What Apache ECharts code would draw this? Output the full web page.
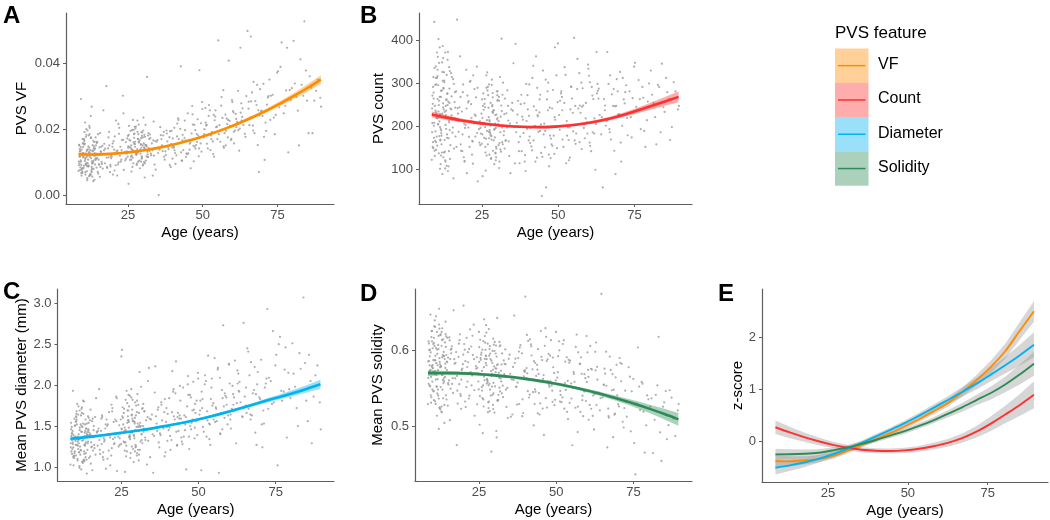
<!DOCTYPE html>
<html><head><meta charset="utf-8">
<script src="https://cdn.jsdelivr.net/npm/echarts@6/dist/echarts.min.js"></script>
<style>html,body{margin:0;padding:0;background:#fff}#c{width:1050px;height:520px}</style>
</head><body><div id="c"></div>
<script>
// ---- participant ages (shared by panels A-D) ----
const ages = [
8.6,9.1,9.4,10.2,10.8,11.3,11.9,12.4,13.0,13.6,
8.8,9.5,10.0,10.6,11.1,11.7,12.2,12.9,13.4,14.1,
9.0,9.7,10.4,11.0,11.5,12.0,12.6,13.2,13.9,14.5,
8.9,9.3,9.9,10.5,11.2,11.8,12.5,13.1,14.0,14.8,
9.2,9.8,10.3,10.9,11.4,12.1,12.7,13.5,14.3,15.0,
8.7,9.6,10.1,10.7,11.6,12.3,13.3,14.2,15.2,15.8,
9.3,10.0,10.8,11.5,12.2,13.0,13.8,14.6,15.5,16.3,
9.9,10.6,11.3,12.1,12.8,13.7,14.4,15.3,16.0,16.8,
8.5,11.2,12.9,14.7,15.6,16.1,16.6,17.0,13.4,10.4,
17.3,17.8,18.4,19.0,19.6,20.2,20.9,21.5,22.1,22.8,
17.6,18.1,18.8,19.4,20.0,20.6,21.3,21.9,22.5,23.3,
17.1,18.6,19.2,20.4,21.0,21.7,22.3,23.0,23.6,24.0,
24.3,24.9,25.4,26.0,26.5,27.1,27.6,28.2,28.8,29.3,
24.6,25.2,25.8,26.3,26.9,27.4,28.0,28.5,29.1,29.7,
25.0,25.6,26.1,26.7,27.2,27.8,28.4,29.0,29.5,30.1,
24.4,25.5,26.6,27.3,27.9,28.6,29.2,29.9,30.5,31.2,
25.1,26.2,27.0,27.7,28.3,29.4,30.3,30.9,31.6,32.3,
26.4,27.5,28.7,29.6,30.0,30.7,31.4,32.0,32.8,33.5,
28.1,29.8,30.6,31.1,31.8,32.5,33.2,33.9,34.6,35.3,
30.4,31.0,31.7,32.2,33.0,33.7,34.3,34.9,35.6,36.0,
36.4,37.1,37.9,38.6,39.3,40.0,40.8,41.5,42.3,43.0,
36.8,37.5,38.2,39.0,39.8,40.5,41.2,42.0,42.7,43.5,
43.8,44.4,45.0,45.7,46.3,47.0,47.6,48.3,49.0,49.6,
44.1,44.8,45.4,46.0,46.7,47.3,48.0,48.7,49.3,49.9,
37.3,38.9,40.3,41.8,43.2,44.6,46.5,47.8,48.9,39.6,
50.3,51.0,51.7,52.4,53.1,53.8,54.5,55.2,55.9,56.6,
50.6,51.4,52.1,52.8,53.5,54.2,54.9,55.6,56.3,57.0,
57.3,58.0,58.7,59.4,60.1,60.8,61.5,62.2,62.9,63.6,
57.6,58.4,59.1,59.8,60.5,61.2,61.9,62.6,63.3,64.1,
50.9,52.6,54.0,55.4,56.9,58.2,59.6,61.0,62.4,64.6,
65.0,65.8,66.5,67.3,68.0,68.8,69.5,70.3,71.0,71.8,
65.3,66.1,66.9,67.6,68.4,69.2,70.0,70.7,71.5,72.3,
72.6,73.4,74.1,74.9,75.6,76.4,77.1,77.9,78.6,79.4,
65.6,67.0,68.6,70.5,72.0,73.8,75.2,76.8,78.2,79.8,
80.4,81.3,82.2,83.1,84.0,84.9,85.8,86.7,87.9,89.6,
40.6,43.3,46.9,51.2,53.7,57.8,60.3,63.0,66.2,69.0,
8.6,9.2,9.8,10.5,11.1,11.8,12.4,13.1,13.7,14.4,
8.9,9.6,10.3,10.9,11.6,12.2,12.9,13.6,14.2,15.1,
9.1,9.9,10.7,11.4,12.0,12.7,13.3,14.0,14.9,15.7,
8.7,9.4,10.1,10.8,11.5,12.3,13.0,13.8,14.6,16.2,
9.0,9.7,10.4,11.2,11.9,12.6,13.5,14.3,15.4,16.5,
8.8,9.5,10.2,11.0,11.7,12.5,13.2,14.1,15.0,15.9,
17.4,18.0,18.7,19.3,19.9,20.5,21.2,21.8,22.6,23.4,
17.9,18.5,19.1,19.8,20.7,21.4,22.0,22.9,23.5,24.1,
24.5,25.3,26.1,26.8,27.5,28.1,28.9,29.6,30.2,30.8,
24.8,25.7,26.4,27.2,27.8,28.6,29.3,30.0,30.7,31.5,
25.1,25.9,26.6,27.4,28.2,29.0,29.7,30.4,31.3,32.1,
26.0,26.9,27.7,28.5,29.4,30.1,31.0,31.9,32.7,33.6,
27.3,28.4,29.5,30.6,31.6,32.4,33.3,34.2,35.1,35.8,
36.2,37.7,39.1,40.4,41.9,43.1,44.3,45.6,47.2,48.5,
36.6,38.0,39.5,40.9,42.5,43.9,45.2,46.6,48.1,49.4,
37.0,38.4,39.9,41.4,42.8,44.0,45.9,47.5,48.8,49.8,
50.5,52.0,53.4,54.8,56.2,57.7,59.0,60.4,61.8,63.2,
51.3,52.9,54.3,55.7,57.1,58.5,59.9,61.3,62.7,64.3,
65.4,66.8,68.2,69.7,71.2,72.8,74.4,76.0,77.6,79.1,
80.8,81.8,82.7,83.6,84.5,85.4,86.3,87.3,88.5,89.3];

// ---- Panel A: PVS volume fraction ----
const vf = [
.0092,.0135,.0068,.0158,.0111,.0074,.0182,.0124,.0097,.0143,
.0119,.0061,.0147,.0105,.0201,.0088,.0131,.0072,.0166,.0112,
.0078,.0126,.0154,.0093,.0139,.0059,.0174,.0101,.0128,.0085,
.0141,.0103,.0083,.0192,.0117,.0149,.0066,.0136,.0094,.0162,
.0107,.0171,.0091,.0127,.0053,.0145,.0113,.0081,.0152,.0122,
.0154,.0082,.0118,.0221,.0098,.0063,.0134,.0176,.0109,.0087,
.0292,.0116,.0071,.0139,.0186,.0104,.0048,.0125,.0146,.0096,
.0129,.0157,.0089,.0211,.0076,.0121,.0163,.0095,.0133,.0258,
.0075,.0099,.0269,.0114,.0057,.0148,.0082,.0137,.0044,.0169,
.0098,.0331,.0143,.0071,.0118,.0165,.0092,.0136,.0205,.0109,
.0126,.0084,.0152,.0113,.0064,.0179,.0127,.0101,.0148,.0302,
.0157,.0116,.0088,.0139,.0227,.0095,.0121,.0168,.0078,.0132,
.0162,.0118,.0211,.0143,.0087,.0175,.0129,.0193,.0106,.0154,
.0134,.0036,.0166,.0121,.0199,.0148,.0097,.0186,.0139,.0115,
.0181,.0147,.0109,.0229,.0156,.0124,.0172,.0083,.0145,.0197,
.0112,.0169,.0137,.0208,.0093,.0163,.0127,.0152,.0184,.0119,
.0149,.0073,.0186,.0131,.0171,.0103,.0158,.0214,.0125,.0141,
.0198,.0134,.0161,.0112,.0176,.0098,.0359,.0144,.0122,.0167,
.0128,.0191,.0055,.0153,.0117,.0174,.0137,.0094,.0163,.0002,
.0146,.0106,.0182,.0135,.0158,.0121,.0079,.0168,.0139,.0183,
.0152,.0118,.0197,.0141,.0087,.0173,.0129,.0218,.0159,.0106,
.0182,.0134,.0164,.0093,.0146,.0205,.0122,.0171,.0391,.0138,
.0163,.0117,.0249,.0157,.0188,.0104,.0142,.0231,.0176,.0133,
.0198,.0125,.0169,.0083,.0215,.0148,.0186,.0119,.0158,.0262,
.0109,.0177,.0145,.0234,.0167,.0128,.0271,.0153,.0379,.0196,
.0176,.0221,.0143,.0258,.0192,.0118,.0207,.0469,.0163,.0235,
.0201,.0157,.0274,.0182,.0126,.0239,.0171,.0213,.0298,.0149,
.0189,.0233,.0408,.0168,.0256,.0197,.0223,.0136,.0279,.0214,
.0245,.0176,.0211,.0289,.0158,.0232,.0198,.0447,.0264,.0187,
.0265,.0138,.0228,.0186,.0319,.0216,.0172,.0247,.0203,.0301,
.0498,.0236,.0312,.0189,.0274,.0072,.0255,.0338,.0221,.0297,
.0263,.0481,.0197,.0286,.0153,.0322,.0241,.0108,.0275,.0351,
.0229,.0305,.0186,.0372,.0267,.0463,.0249,.0318,.0131,.0289,
.0213,.0344,.0258,.0178,.0301,.0236,.0376,.0281,.0447,.0325,
.0468,.0298,.0152,.0335,.0527,.0287,.0361,.0189,.0317,.0269,
.0137,.0184,.0151,.0212,.0244,.0196,.0252,.0227,.0285,.0243,
.0103,.0147,.0069,.0126,.0184,.0091,.0138,.0058,.0162,.0112,
.0134,.0079,.0172,.0096,.0121,.0205,.0087,.0149,.0108,.0067,
.0086,.0158,.0114,.0047,.0131,.0176,.0099,.0143,.0072,.0189,
.0152,.0093,.0128,.0064,.0197,.0117,.0081,.0139,.0159,.0102,
.0118,.0073,.0165,.0135,.0089,.0241,.0106,.0127,.0094,.0151,
.0097,.0139,.0084,.0178,.0109,.0062,.0153,.0121,.0186,.0133,
.0142,.0087,.0193,.0121,.0158,.0076,.0134,.0217,.0103,.0169,
.0115,.0176,.0093,.0148,.0129,.0061,.0187,.0138,.0249,.0107,
.0127,.0184,.0152,.0098,.0203,.0141,.0167,.0119,.0236,.0154,
.0173,.0108,.0139,.0188,.0124,.0215,.0156,.0091,.0178,.0133,
.0145,.0196,.0115,.0163,.0227,.0137,.0181,.0102,.0149,.0171,
.0118,.0161,.0209,.0131,.0174,.0095,.0152,.0189,.0127,.0224,
.0156,.0103,.0192,.0143,.0117,.0185,.0061,.0165,.0129,.0207,
.0171,.0123,.0195,.0148,.0229,.0106,.0167,.0139,.0214,.0182,
.0135,.0188,.0157,.0096,.0202,.0175,.0128,.0246,.0162,.0219,
.0193,.0147,.0112,.0179,.0131,.0227,.0161,.0198,.0143,.0283,
.0186,.0241,.0164,.0209,.0272,.0152,.0226,.0193,.0317,.0238,
.0214,.0171,.0258,.0196,.0145,.0229,.0283,.0207,.0251,.0178,
.0284,.0212,.0335,.0257,.0196,.0302,.0244,.0389,.0271,.0319,
.0339,.0257,.0412,.0302,.0378,.0189,.0326,.0287,.0351,.0296];

// ---- Panel B: PVS count ----
const count = [
186,264,143,312,221,167,348,239,118,275,
252,131,297,205,383,158,244,102,319,213,
149,236,331,177,268,89,302,194,257,124,
291,208,163,361,228,283,139,247,172,323,
201,339,155,259,112,305,233,181,287,225,
271,166,227,402,190,128,262,337,215,148,
442,219,137,282,358,203,96,241,309,176,
232,295,169,386,141,249,328,185,256,447,
122,198,371,217,79,279,152,242,108,316,
187,362,234,128,203,271,152,219,318,176,
244,143,297,196,91,258,211,164,286,338,
229,181,118,255,303,134,206,267,72,193,
211,159,276,198,132,243,186,308,167,226,
183,84,252,171,291,214,126,267,193,148,
262,207,139,325,221,178,249,112,196,281,
156,238,189,297,124,231,174,216,268,141,
219,97,272,182,246,137,205,314,163,228,
289,191,236,152,259,118,403,201,168,247,
177,281,103,222,158,264,197,131,239,346,
212,146,273,188,230,165,91,254,199,391,
208,142,273,184,96,239,161,312,201,127,
259,176,222,118,194,297,153,246,362,187,
232,138,329,189,262,107,171,284,215,149,
273,129,206,58,301,178,241,136,198,392,
114,253,167,340,226,38,281,158,383,212,
226,281,152,319,198,127,264,405,183,241,
259,169,337,212,121,292,188,247,356,163,
231,288,172,209,317,142,263,99,298,226,
301,196,254,343,154,271,218,372,287,181,
276,114,239,167,323,248,183,291,205,58,
263,212,298,169,247,89,281,326,201,253,
237,372,186,274,143,309,228,118,262,295,
219,281,174,338,245,307,193,266,152,257,
201,318,246,162,279,221,347,263,189,299,
329,254,158,291,345,233,279,168,302,247,
176,223,134,268,197,245,162,282,214,247,
241,173,312,204,268,139,287,226,354,191,
163,296,218,347,184,253,121,276,209,314,
278,145,234,193,326,168,261,107,239,298,
207,335,176,249,132,289,221,372,156,243,
314,188,263,101,229,306,173,254,197,281,
152,247,371,211,178,325,236,142,269,218,
213,158,279,119,241,197,305,166,227,184,
268,142,206,331,175,251,113,224,289,162,
196,247,152,283,211,169,237,128,261,202,
229,173,318,187,254,143,206,272,161,235,
181,263,214,134,296,192,227,156,248,179,
244,158,201,277,138,219,186,301,166,213,
172,233,121,259,197,148,283,206,236,114,
186,251,133,224,167,289,204,151,243,178,
227,142,298,196,118,262,181,237,154,318,
163,215,272,144,237,189,308,126,221,256,
192,254,168,231,286,147,218,302,183,264,
237,178,291,159,248,204,333,186,276,221,
248,193,286,227,312,179,265,238,291,214,
273,221,296,186,244,312,263,198,281,239];

// ---- Panel C: mean PVS diameter (mm) ----
const diam = [
1.24,1.41,1.12,1.55,1.31,1.18,1.63,1.36,1.07,1.47,
1.38,1.02,1.51,1.27,1.74,1.15,1.43,1.09,1.58,1.29,
1.16,1.35,1.61,1.22,1.45,0.97,1.53,1.26,1.39,1.11,
1.49,1.28,1.19,1.68,1.34,1.52,1.05,1.42,1.21,1.57,
1.30,1.59,1.14,1.37,1.01,1.50,1.33,1.17,1.46,1.40,
1.54,1.13,1.32,1.77,1.25,1.06,1.44,1.62,1.30,1.20,
1.93,1.36,1.10,1.48,1.66,1.27,0.92,1.39,1.56,1.23,
1.35,1.52,1.18,1.71,1.08,1.41,1.60,1.24,1.45,1.84,
1.03,1.29,1.80,1.37,0.96,1.50,1.15,1.43,1.12,1.65,
1.26,1.95,1.44,1.12,1.33,1.58,1.20,1.40,1.72,1.29,
1.47,1.16,1.61,1.31,0.98,1.52,1.36,1.23,1.55,1.86,
1.42,1.28,1.09,1.50,1.67,1.14,1.34,1.58,0.95,1.37,
1.51,1.28,1.73,1.44,1.13,1.62,1.36,1.85,1.22,1.55,
1.41,2.43,1.66,1.30,1.78,1.48,1.17,1.70,1.38,1.25,
2.35,1.52,1.20,1.93,1.57,1.34,1.64,1.06,1.45,1.81,
1.27,1.60,1.43,1.88,1.11,1.59,1.35,1.49,1.76,1.31,
1.46,0.94,1.69,1.39,1.63,1.19,1.53,2.16,1.40,1.47,
1.82,1.37,1.56,1.24,1.67,1.15,1.98,1.50,1.33,1.61,
1.42,1.75,1.08,1.54,1.29,1.68,1.45,2.21,1.58,0.93,
1.49,1.21,1.71,1.43,1.57,1.32,1.12,1.64,1.38,2.23,
1.53,1.30,1.79,1.47,1.18,1.65,1.38,2.17,1.58,1.26,
1.70,1.41,1.57,1.13,1.49,1.84,1.33,1.62,2.29,1.44,
1.59,1.36,1.97,1.52,1.74,1.22,1.46,2.04,1.66,1.39,
1.81,1.28,1.63,0.97,1.88,1.50,1.69,1.35,1.56,2.08,
1.24,1.67,1.45,1.92,1.61,1.31,2.01,1.54,1.77,1.72,
1.64,1.92,1.43,2.05,2.36,1.27,1.75,2.33,1.56,0.93,
1.81,1.49,2.12,1.68,1.34,1.97,1.58,1.73,2.21,1.41,
1.66,2.73,1.87,1.52,2.02,1.71,1.85,1.29,2.14,1.79,
1.94,1.60,1.76,2.26,1.47,1.89,1.69,2.18,2.04,1.62,
0.96,1.37,1.83,1.55,2.09,1.74,1.63,1.99,1.78,2.76,
1.86,2.45,2.12,1.63,1.94,1.27,1.78,2.31,1.69,2.02,
1.75,2.41,1.58,1.90,1.42,2.16,1.83,1.24,1.97,2.93,
1.71,2.05,2.66,2.24,1.02,2.59,1.81,2.19,1.36,1.95,
1.66,2.28,1.89,1.52,2.08,1.77,2.37,1.93,2.46,1.84,
2.51,1.98,1.50,2.20,3.07,1.81,2.37,1.29,2.12,1.46,
1.48,1.66,1.37,1.72,1.52,1.84,1.58,1.93,1.71,2.01,
1.29,1.44,1.17,1.58,1.33,1.21,1.49,1.38,1.09,1.54,
1.41,1.14,1.62,1.26,1.35,1.73,1.19,1.47,1.31,1.04,
1.22,1.50,1.34,0.99,1.43,1.65,1.28,1.39,1.13,1.59,
1.46,1.24,1.37,1.08,1.69,1.32,1.16,1.53,1.42,1.27,
1.33,1.11,1.56,1.40,1.20,1.81,1.30,1.45,1.25,1.61,
1.19,1.39,1.27,1.64,1.35,1.07,1.52,1.43,1.70,1.36,
1.44,1.21,1.63,1.35,1.52,1.10,1.39,1.76,1.28,1.56,
1.33,1.59,1.18,1.47,1.40,1.02,1.68,1.36,1.84,1.25,
1.35,1.62,1.48,1.19,1.74,1.43,1.56,1.27,1.89,1.51,
1.58,1.31,1.45,1.69,1.37,1.82,1.53,1.14,1.66,1.40,
1.47,1.71,1.26,1.55,1.95,1.39,1.63,1.21,1.50,1.77,
1.30,1.54,1.87,1.42,1.60,1.17,1.49,1.72,1.36,2.05,
1.57,1.25,1.79,1.44,1.33,1.68,1.03,1.59,1.40,1.91,
1.62,1.39,1.83,1.51,1.95,1.27,1.59,1.45,1.88,1.70,
1.44,1.76,1.55,1.21,1.90,1.63,1.37,2.11,1.58,1.81,
1.73,1.50,1.32,1.67,1.43,1.99,1.61,1.85,1.48,2.15,
1.69,2.01,1.53,1.78,2.19,1.46,1.85,1.64,2.30,1.92,
1.83,1.57,2.08,1.71,1.40,1.90,2.25,1.76,2.02,1.61,
1.97,1.64,2.22,1.85,1.53,2.09,1.79,2.50,1.92,2.15,
2.14,1.72,2.39,1.93,2.27,1.56,2.05,1.86,2.24,1.79];

// ---- Panel D: mean PVS solidity ----
const solid = [
.5640,.5925,.5412,.6087,.5731,.5528,.6194,.5819,.5187,.5983,
.5862,.5314,.6031,.5704,.6453,.5487,.5901,.5263,.6148,.5772,
.5541,.5797,.6102,.5618,.5956,.4968,.6213,.5679,.5889,.5356,
.6006,.5748,.5591,.6321,.5834,.6075,.5229,.5912,.5653,.6168,
.5735,.6257,.5469,.5871,.5142,.6552,.5788,.5573,.6049,.5907,
.6121,.5385,.5767,.6398,.5624,.5251,.5943,.6218,.5702,.5498,
.6475,.5808,.5332,.6014,.6289,.5685,.5047,.5856,.6135,.5561,
.5779,.6062,.5523,.6344,.5198,.5926,.6187,.5607,.5965,.6531,
.5295,.5681,.6247,.5849,.5083,.6023,.5442,.5887,.5371,.6169,
.5634,.4756,.5918,.5427,.5762,.6087,.5519,.5846,.6281,.5673,
.5981,.5302,.6215,.5745,.6593,.5861,.5593,.5406,.6054,.6342,
.5827,.5558,.5234,.6012,.6168,.5369,.5718,.5941,.5142,.5796,
.5912,.5489,.6143,.5733,.5264,.6011,.5628,.6284,.5407,.5837,
.5702,.5023,.5975,.5541,.6192,.5806,.5318,.6059,.5664,.5437,
.6247,.5879,.5374,.6412,.5936,.5582,.6021,.4668,.5748,.6115,
.5293,.5904,.5657,.6335,.5189,.5961,.5526,.5792,.6067,.5348,
.5851,.4912,.6105,.5603,.5934,.5417,.5768,.6431,.5512,.5817,
.6124,.5566,.5889,.5231,.5995,.4856,.5708,.5634,.5387,.6016,
.5543,.6078,.4941,.5819,.5462,.5963,.5689,.5258,.5892,.5127,
.5716,.5339,.6057,.5594,.5871,.5486,.5112,.5947,.5621,.5785,
.6462,.5519,.5987,.5642,.5178,.6712,.5465,.6149,.5753,.5296,
.5894,.5578,.6041,.5136,.5719,.6207,.5382,.5936,.5014,.5667,
.5813,.5441,.6258,.5627,.6063,.5249,.5548,.6138,.5781,.5352,
.6019,.5304,.5876,.4889,.6182,.5597,.5934,.5472,.5706,.6247,
.5289,.5964,.5635,.6083,.5837,.5157,.6296,.5523,.5908,.5734,
.5645,.6004,.5321,.6138,.5482,.5098,.5867,.4753,.5589,.6212,
.5927,.5416,.6087,.5573,.5194,.5841,.5369,.5718,.6049,.5262,
.5501,.5912,.5136,.5637,.5978,.5284,.5752,.4961,.6107,.5447,
.5823,.5347,.5689,.6193,.5089,.5761,.5408,.5984,.5617,.5213,
.6123,.5235,.5879,.5512,.4927,.5695,.5336,.6062,.5427,.6748,
.5382,.5697,.4724,.5921,.5478,.5156,.5813,.5264,.5596,.4987,
.5553,.5986,.5137,.5745,.4859,.5648,.5291,.5839,.5063,.5472,
.5324,.5781,.4936,.5628,.4368,.6041,.5217,.5564,.4655,.5409,
.5762,.5118,.5486,.5903,.5243,.5657,.4782,.5526,.5195,.5358,
.5263,.4651,.5418,.6182,.4547,.5319,.4832,.5478,.5104,.5296,
.5701,.5457,.5863,.5328,.5601,.5192,.5745,.5283,.5537,.5169,
.5857,.5528,.6122,.5691,.6034,.5409,.5783,.6295,.5597,.5942,
.5718,.6178,.5462,.5931,.5807,.5243,.6064,.5635,.6381,.5553,
.6013,.5489,.5874,.6246,.5368,.5795,.5612,.6108,.5275,.5889,
.5563,.5978,.5721,.6312,.5436,.5852,.6139,.5284,.5743,.6056,
.5806,.6257,.5347,.5694,.6021,.5519,.5928,.5412,.6175,.5637,
.6093,.5653,.5876,.5298,.5742,.6204,.5486,.5829,.5571,.6012,
.5839,.5472,.6138,.5617,.5946,.5328,.5784,.6023,.5541,.5887,
.5667,.6091,.5403,.5822,.5256,.5979,.5704,.6196,.5478,.5762,
.5774,.5401,.6013,.5612,.5887,.5243,.5731,.6158,.5528,.5809,
.5593,.5946,.5357,.5838,.6092,.5486,.5693,.5184,.5921,.5642,
.6045,.5519,.5782,.6236,.5328,.5867,.5574,.5962,.5418,.5735,
.5473,.5891,.5615,.5204,.5996,.5682,.5347,.6071,.5538,.5819,
.5926,.5562,.5284,.5763,.6114,.5437,.5826,.5509,.5695,.5158,
.5614,.5902,.5358,.5771,.6057,.5489,.5693,.5236,.5885,.5542,
.5837,.5296,.5661,.6128,.5452,.5749,.5918,.5373,.5596,.5281,
.5527,.6072,.5744,.5419,.5861,.5174,.5678,.5957,.5325,.5608,
.5716,.5383,.5912,.5568,.5247,.5829,.5461,.5654,.5139,.5787,
.5469,.5854,.5312,.5693,.5978,.5406,.5587,.5234,.5741,.5375,
.5548,.5237,.5689,.5412,.5826,.5129,.5463,.5302,.5587,.5016,
.5372,.5089,.5542,.4923,.5261,.5467,.5018,.5381,.4874,.5212];

// ---- fitted curves (age grid) ----
const fitAge = [8.5,13,17.5,22,26.5,31,35.5,40,44.5,49,53.5,58,62.5,67,71.5,76,80.5,85,89.5];
const vfFit = [.01250,.01245,.01256,.01283,.01324,.01381,.01453,.01541,.01643,.01761,.01894,.02043,.02206,.02385,.02580,.02789,.03014,.03254,.03509];
const vfSe  = [.0006,.0005,.0004,.0004,.0003,.0003,.0003,.0003,.0003,.0003,.0003,.0004,.0004,.0005,.0006,.0007,.0009,.0011,.0013];
const countFit = [227,220.5,214.5,209.5,205,201.5,199.2,198,197.8,199,201.5,205.5,211,218,226.5,236.5,247,257.5,268];
const countSe  = [7,5.5,4.5,4,3.5,3,3,3,3,3,3,3,3.5,4,5,6.5,8,10,12.5];
const diamFit = [1.345,1.362,1.381,1.403,1.425,1.449,1.475,1.505,1.538,1.574,1.614,1.658,1.705,1.755,1.805,1.853,1.902,1.954,2.010];
const diamSe  = [.025,.02,.017,.015,.014,.014,.014,.014,.014,.014,.015,.016,.018,.021,.025,.03,.037,.045,.055];
const solidFit = [.5703,.5705,.5703,.5697,.5686,.5671,.5652,.5628,.5601,.5569,.5533,.5493,.5448,.5400,.5347,.5290,.5229,.5164,.5094];
const solidSe  = [.004,.003,.0025,.002,.002,.002,.002,.002,.002,.002,.002,.0022,.0026,.003,.0036,.0045,.0056,.007,.0085];

// ---- Panel E: z-scored fits ----
const zVF    = [-0.386,-0.392,-0.375,-0.345,-0.29,-0.19,-0.08,0.035,0.15,0.28,0.42,0.57,0.73,0.94,1.17,1.43,1.73,2.12,2.50];
const zCount = [0.265,0.165,0.075,-0.005,-0.075,-0.13,-0.168,-0.188,-0.192,-0.18,-0.15,-0.10,-0.035,0.055,0.18,0.335,0.51,0.69,0.89];
const zDiam  = [-0.515,-0.47,-0.415,-0.345,-0.255,-0.15,-0.035,0.09,0.215,0.345,0.49,0.64,0.79,0.945,1.105,1.28,1.46,1.65,1.855];
const zSolid = [-0.258,-0.255,-0.245,-0.225,-0.18,-0.125,-0.055,0.02,0.105,0.19,0.29,0.40,0.525,0.65,0.79,0.925,1.09,1.28,1.49];
const zVFSe    = [.12,.10,.08,.065,.055,.05,.045,.045,.045,.05,.055,.06,.07,.085,.10,.12,.145,.17,.20];
const zCountSe = [.13,.11,.09,.075,.06,.055,.05,.05,.05,.05,.055,.065,.075,.09,.11,.14,.17,.21,.26];
const zDiamSe  = [.13,.11,.09,.075,.06,.05,.045,.045,.045,.05,.055,.065,.075,.09,.11,.13,.16,.20,.24];
const zSolidSe = [.11,.095,.08,.065,.055,.05,.045,.045,.045,.05,.055,.06,.07,.085,.10,.125,.15,.19,.23];

const xTicks = [25, 50, 75];
const features = ['VF', 'Count', 'Diameter', 'Solidity'];

// ---- styling / layout ----
const COL = {VF:'#FF8C00', Count:'#FF3030', Diameter:'#00B2EE', Solidity:'#2E8B57'};
const AX = '#5e5e5e', LAB = '#4d4d4d', FONT = 'Liberation Sans, Arial, sans-serif';

const panels = [
  {letter:'A', grid:{left:66, top:13, width:268, height:191}, ymin:-0.0025, ymax:0.0552, yt:[0,0.02,0.04], fmt:v=>v.toFixed(2), name:'PVS VF', gap:37, pts:vf, fit:vfFit, se:vfSe, col:COL.VF, lx:3, ly:16},
  {letter:'B', grid:{left:419, top:13, width:273, height:191}, ymin:19.5, ymax:462.6, yt:[100,200,300,400], fmt:v=>String(v), name:'PVS count', gap:33, pts:count, fit:countFit, se:countSe, col:COL.Count, lx:360, ly:16},
  {letter:'C', grid:{left:57.5, top:289, width:276.5, height:192}, ymin:0.829, ymax:3.174, yt:[1,1.5,2,2.5,3], fmt:v=>v.toFixed(1), name:'Mean PVS diameter (mm)', gap:28, pts:diam, fit:diamFit, se:diamSe, col:COL.Diameter, lx:3, ly:292},
  {letter:'D', grid:{left:415, top:289, width:277, height:192}, ymin:0.4282, ymax:0.6812, yt:[0.5,0.6], fmt:v=>v.toFixed(1), name:'Mean PVS solidity', gap:30, pts:solid, fit:solidFit, se:solidSe, col:COL.Solidity, lx:360, ly:294},
  {letter:'E', grid:{left:762, top:289, width:286, height:193}, ymin:-0.79, ymax:2.93, yt:[0,1,2], fmt:v=>String(v), name:'z-score', gap:17, lx:718, ly:294}
];

function band(idx, fit, se, color, opacity, z) {
  return {
    type:'custom', xAxisIndex:idx, yAxisIndex:idx, silent:true, z:z,
    data:[[50, fit[9]]],
    renderItem: function(params, api) {
      const up = fitAge.map((a,i)=>api.coord([a, fit[i] + se[i]]));
      const lo = fitAge.map((a,i)=>api.coord([a, fit[i] - se[i]])).reverse();
      return {type:'polygon', shape:{points: up.concat(lo)}, style:{fill:color, opacity:opacity}};
    }
  };
}
function fitLine(idx, fit, color, width, z) {
  return {type:'line', xAxisIndex:idx, yAxisIndex:idx, silent:true, z:z, showSymbol:false, smooth:0.3,
    data: fitAge.map((a,i)=>[a, fit[i]]), lineStyle:{color:color, width:width}, itemStyle:{color:color}};
}

const grids = [], xAxes = [], yAxes = [], series = [], graphics = [];
panels.forEach((p, idx) => {
  grids.push(Object.assign({outerBoundsMode:'none', containLabel:false}, p.grid));
  xAxes.push({gridIndex:idx, type:'value', min:4.3, max:93.9,
    splitLine:{show:false},
    axisLine:{show:true, onZero:false, lineStyle:{color:AX, width:1.2}},
    axisTick:{show:true, customValues:xTicks, length:3, lineStyle:{color:AX, width:1}},
    axisLabel:{customValues:xTicks, color:LAB, fontSize:13, margin:5, fontFamily:FONT},
    name:'Age (years)', nameLocation:'middle', nameGap:21,
    nameTextStyle:{fontSize:15, color:'#000', fontFamily:FONT}});
  yAxes.push({gridIndex:idx, type:'value', min:p.ymin, max:p.ymax,
    splitLine:{show:false},
    axisLine:{show:true, onZero:false, lineStyle:{color:AX, width:1.2}},
    axisTick:{show:true, customValues:p.yt, length:3, lineStyle:{color:AX, width:1}},
    axisLabel:{customValues:p.yt, formatter:p.fmt, color:LAB, fontSize:13, margin:6, fontFamily:FONT},
    name:p.name, nameLocation:'middle', nameGap:p.gap,
    nameTextStyle:{fontSize:15, color:'#000', fontFamily:FONT}});
  if (p.pts) {
    series.push({type:'scatter', xAxisIndex:idx, yAxisIndex:idx, silent:true, z:1,
      symbolSize:2.2, itemStyle:{color:'#9a9a9a'},
      data: ages.map((a,i)=>[a, p.pts[i]])});
    series.push(band(idx, p.fit, p.se, p.col, 0.4, 3));
    series.push(fitLine(idx, p.fit, p.col, 2.6, 4));
  }
  graphics.push({type:'text', left:p.lx, top:p.ly - 12, style:{text:p.letter, fontSize:24, fontWeight:'bold', fill:'#000', fontFamily:FONT}});
});

// Panel E: all four z-scored fits
const eFits = [[zVF, zVFSe, COL.VF], [zCount, zCountSe, COL.Count], [zDiam, zDiamSe, COL.Diameter], [zSolid, zSolidSe, COL.Solidity]];
eFits.forEach(f => series.push(band(4, f[0], f[1], '#999999', 0.4, 3)));
eFits.forEach(f => series.push(fitLine(4, f[0], f[2], 1.9, 4)));

// Legend (PVS feature)
const legX = 835, legTop = 48.5, keyH = 34.3, keyW = 33.5;
graphics.push({type:'text', left:legX, top:25, style:{text:'PVS feature', fontSize:17, fill:'#000', fontFamily:FONT}});
features.forEach((f, i) => {
  const y0 = legTop + i * keyH;
  graphics.push({type:'rect', left:legX, top:y0, shape:{width:keyW, height:keyH}, style:{fill:COL[f], opacity:0.4}});
  graphics.push({type:'rect', left:legX + 3, top:y0 + keyH/2 - 0.75, shape:{width:keyW - 6, height:1.5}, style:{fill:COL[f]}});
  graphics.push({type:'text', left:878, top:y0 + keyH/2 - 9, style:{text:f, fontSize:16, fill:'#000', fontFamily:FONT}});
});

const chart = echarts.init(document.getElementById('c'), null, {renderer:'canvas'});
chart.setOption({
  animation:false,
  backgroundColor:'#ffffff',
  textStyle:{fontFamily:FONT},
  grid:grids, xAxis:xAxes, yAxis:yAxes, series:series, graphic:graphics
});
</script>
</body></html>
